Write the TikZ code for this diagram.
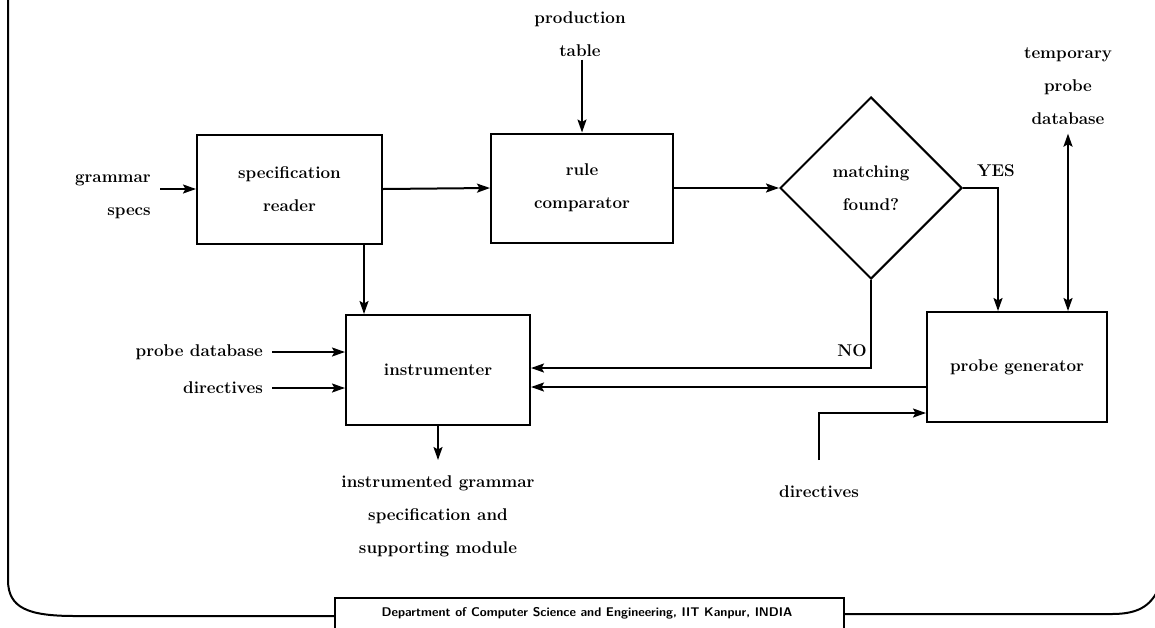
\documentclass[tikz,border=0pt]{standalone}
\usetikzlibrary{arrows.meta,shapes.geometric}

\begin{document}
\begin{tikzpicture}[x=1pt,y=-1pt,
  every node/.style={font=\fontsize{17}{33}\selectfont\bfseries, inner sep=0pt},
  blk/.style={draw, line width=2pt, rectangle, align=center},
  dia/.style={draw, line width=2pt, diamond, aspect=1, align=center,
              minimum width=182pt, minimum height=182pt},
  lbl/.style={align=center},
  tip/.tip={Stealth[length=13pt,width=9pt,inset=2.5pt]},
  arr/.style={line width=2pt, -tip},
  dbl/.style={line width=2pt, tip-tip},
  frame/.style={line width=2pt},
  footer/.style={font=\fontsize{12.6}{14}\selectfont\sffamily\bfseries}]

\useasboundingbox (0,0) rectangle (1155,627);
\clip (0,0) rectangle (1155,627);

% processing blocks
\node[blk, minimum width=185pt, minimum height=109pt] (sr) at (289.5,189) {specification\\reader};
\node[blk, minimum width=182pt, minimum height=109pt] (rc) at (582,188) {rule\\comparator};
\node[dia] (dm) at (871,188) {matching\\found?};
\node[blk, minimum width=184pt, minimum height=110pt] (in) at (438,370) {instrumenter};
\node[blk, minimum width=180pt, minimum height=110pt] (pg) at (1017,367) {probe generator};

% inputs and outputs
\node[lbl, align=right, anchor=east] (gs) at (151,197) {grammar\\specs};
\coordinate (gsin) at (160,189);
\node[lbl] (pt) at (580,34) {production\\table};
\node[lbl] (td) at (1068,86) {temporary\\probe\\database};
\node[lbl, anchor=east] (pdb) at (263,352) {probe database};
\node[lbl, anchor=east] (dl) at (263,388) {directives};
\node[lbl] (dr) at (819,492) {directives};
\coordinate (drs) at (819,460);
\node[lbl] (out) at (438,516) {instrumented grammar\\specification and\\supporting module};
\coordinate (outtip) at (438,460);
\node[lbl] (yes) at (996,171) {YES};
\node[lbl] (no) at (852,351) {NO};

% connectors
\draw[arr] (gsin) -- (sr.west);
\draw[arr] (sr.east) -- (rc.west);
\draw[arr] (pt.south -| rc.north) ++(0,3) -- (rc.north);
\draw[arr] (rc.east) -- (dm.west);
\draw[arr] (dm.east) -| ([xshift=-19pt]pg.north);
\draw[dbl] ([yshift=-9pt]td.south) -- (td.south |- pg.north);
\draw[arr] (dm.south) |- ([yshift=2pt]in.east);
\draw[arr] ([yshift=-20pt]pg.west) -- ([yshift=-17pt]in.east);
\draw[arr] (drs) |- ([yshift=-46pt]pg.west);
\draw[arr] ([xshift=74.5pt]sr.south) -- ([xshift=74.5pt]sr.south |- in.north);
\draw[arr] ([xshift=9pt]pdb.east) -- (in.west |- pdb.east);
\draw[arr] ([xshift=9pt]dl.east) -- (in.west |- dl.east);
\draw[arr] (in.south) -- (outtip);

% page frame and footer tab
\draw[frame] (8,-5) -- (8,580) .. controls (8,608) and (28,616) .. (75,616) -- (335,616);
\draw[frame] (844,614) -- (1112,614) .. controls (1138,614) and (1150,606) .. (1158,590) -- (1175,550);
\draw[frame] (335,640) -- (335,598) -- (844,598) -- (844,640);
\node[footer] (ft) at (587,613) {Department of Computer Science and Engineering, IIT Kanpur, INDIA};
\end{tikzpicture}
\end{document}
